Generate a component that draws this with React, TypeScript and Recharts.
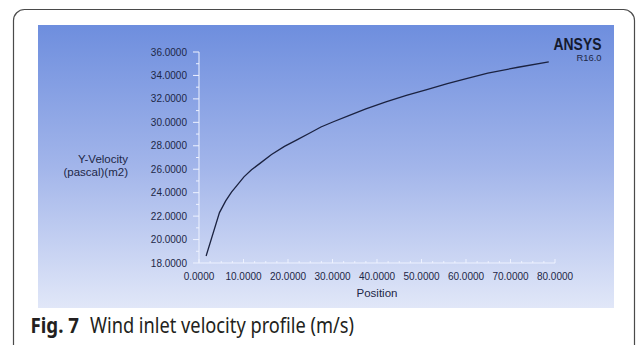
import React from 'react';
import { LineChart, Line, XAxis, YAxis } from 'recharts';

// values
const positions = [1.6, 4.6, 6, 7.3, 8.5, 10.1, 11.8, 13.7, 16.3, 19.2, 22, 24.7, 27.4, 30.2, 33.8, 37.5, 42, 46.6, 51.2, 55.8, 60.3, 64.9, 71.7, 78.6];
const velocities = [18.6, 22.3, 23.3, 24.05, 24.6, 25.35, 25.95, 26.5, 27.25, 27.95, 28.5, 29.05, 29.6, 30.05, 30.6, 31.15, 31.75, 32.3, 32.8, 33.3, 33.75, 34.2, 34.7, 35.15];

const xTicks = [0, 2.5, 5, 7.5, 10, 12.5, 15, 17.5, 20, 22.5, 25, 27.5, 30, 32.5, 35, 37.5, 40, 42.5, 45, 47.5, 50, 52.5, 55, 57.5, 60, 62.5, 65, 67.5, 70, 72.5, 75, 77.5, 80];
const yTicks = [18, 19, 20, 21, 22, 23, 24, 25, 26, 27, 28, 29, 30, 31, 32, 33, 34, 35, 36];

const data = positions.map((p, i) => ({ position: p, velocity: velocities[i] }));

const axisColor = '#eef2ff';
const textColor = '#1d2747';
const tickFont = '"Liberation Sans", Arial, sans-serif';

const YTick = (props: any) => {
  const { x, y, payload } = props;
  const v = payload.value as number;
  const major = v % 2 === 0;
  return (
    <g>
      <line x1={x - (major ? 6 : 3)} x2={x} y1={y} y2={y} stroke={axisColor} strokeWidth={1} />
      {major && (
        <text x={x - 12} y={y} dy={3.6} textAnchor="end" fontSize={10} fill={textColor} fontFamily={tickFont}>
          {v.toFixed(4)}
        </text>
      )}
    </g>
  );
};

const XTick = (props: any) => {
  const { x, y, payload } = props;
  const v = payload.value as number;
  const major = v % 10 === 0;
  return (
    <g>
      <line x1={x} x2={x} y1={y} y2={y - (major ? 4 : 2)} stroke={axisColor} strokeWidth={1} />
      {major && (
        <text x={x} y={y + 17} textAnchor="middle" fontSize={10} fill={textColor} fontFamily={tickFont}>
          {v.toFixed(4)}
        </text>
      )}
    </g>
  );
};

const App: React.FC = () => {
  return (
    <div style={{ position: 'absolute', left: 0, top: 0, width: 637, height: 345, background: '#fff', overflow: 'hidden' }}>
      <div
        style={{
          position: 'absolute',
          left: 38,
          top: 25,
          width: 576,
          height: 283,
          background: 'linear-gradient(to bottom, #6e8ede 0%, #a2b5ea 50%, #e1e7f8 100%)',
        }}
      />
      <div style={{ position: 'absolute', left: 38, top: 25 }}>
        <LineChart width={576} height={283} data={data} margin={{ top: 27, right: 59, bottom: 0, left: 0 }}>
          <XAxis
            type="number"
            dataKey="position"
            domain={[0, 80]}
            ticks={xTicks}
            interval={0}
            height={45}
            tickSize={0}
            tickMargin={0}
            tickLine={false}
            axisLine={{ stroke: axisColor }}
            tick={<XTick />}
            label={{ value: 'Position', position: 'insideBottom', offset: 11, fontSize: 11.5, fill: textColor, fontFamily: tickFont }}
          />
          <YAxis
            type="number"
            domain={[18, 36]}
            ticks={yTicks}
            interval={0}
            width={161}
            tickSize={0}
            tickMargin={0}
            tickLine={false}
            axisLine={{ stroke: axisColor }}
            tick={<YTick />}
          />
          <Line
            type="linear"
            dataKey="velocity"
            stroke="#1b2240"
            strokeWidth={1.3}
            dot={false}
            isAnimationActive={false}
          />
        </LineChart>
      </div>
      <svg width={637} height={345} style={{ position: 'absolute', left: 0, top: 0, pointerEvents: 'none' }}>
        <rect x={13.5} y={9.5} width={621} height={360} rx={11} fill="none" stroke="#4a4a4a" strokeWidth={1.2} />
        <text x={128} y={163} textAnchor="end" fontSize={11.5} fill={textColor} fontFamily={tickFont}>Y-Velocity</text>
        <text x={128} y={176} textAnchor="end" fontSize={11.5} fill={textColor} fontFamily={tickFont}>(pascal)(m2)</text>
        <text x={601.5} y={49.5} textAnchor="end" fontSize={17} fontWeight={700} fill="#141a2e" fontFamily={tickFont} textLength={48} lengthAdjust="spacingAndGlyphs">ANSYS</text>
        <text x={601.5} y={61} textAnchor="end" fontSize={9} fill={textColor} fontFamily={tickFont} textLength={25} lengthAdjust="spacingAndGlyphs">R16.0</text>
        <text x={30.5} y={333} fontSize={21} fontWeight={700} fill="#231f20" fontFamily='"Noto Sans", sans-serif' textLength={48.5} lengthAdjust="spacingAndGlyphs">Fig. 7</text>
        <text x={90} y={333} fontSize={21} fill="#231f20" fontFamily='"Noto Sans", sans-serif' textLength={264} lengthAdjust="spacingAndGlyphs">Wind inlet velocity profile (m/s)</text>
      </svg>
    </div>
  );
};

export default App;
